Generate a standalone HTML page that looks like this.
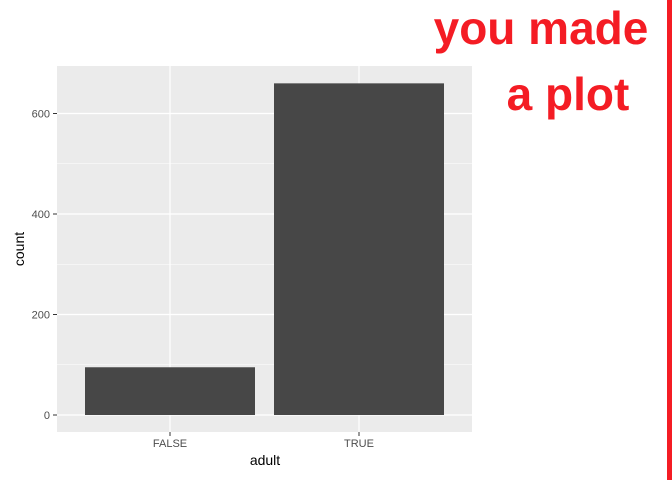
<!DOCTYPE html>
<html><head><meta charset="utf-8"><style>
body{margin:0;background:#fff;width:672px;height:480px;overflow:hidden;font-family:"Liberation Sans",Arial,sans-serif}
</style></head><body>
<svg width="672" height="480" xmlns="http://www.w3.org/2000/svg">
<rect x="57" y="66" width="415" height="366" fill="#ebebeb"/>
<g id="grid"></g>
<g id="bars"></g>
<g id="axes" font-size="11" fill="#4d4d4d"></g>
<text x="265" y="465" font-size="14" text-anchor="middle" fill="#000">adult</text>
<text transform="translate(24,249) rotate(-90)" font-size="14" text-anchor="middle" fill="#000">count</text>
<text x="541" y="44" font-size="46" font-weight="bold" text-anchor="middle" fill="#f41c24">you made</text>
<text x="568" y="110" font-size="46" font-weight="bold" text-anchor="middle" fill="#f41c24">a plot</text>
<rect x="667" y="0" width="5" height="480" fill="#f41c24"/>
</svg>
<script>
const categories=["FALSE","TRUE"];
const counts=[95,660];
const yTicks=[0,200,400,600];
const yMinor=[100,300,500];
const NS="http://www.w3.org/2000/svg";
const y=v=>415-v*0.5025;
const x=i=>170+i*189;
const bw=170;
function mk(t,a,p){const e=document.createElementNS(NS,t);for(const k in a)e.setAttribute(k,a[k]);p.appendChild(e);return e;}
const grid=document.getElementById('grid'),bars=document.getElementById('bars'),axes=document.getElementById('axes');
yMinor.forEach(v=>{const l=mk('line',{x1:57,x2:472,y1:y(v),y2:y(v),stroke:'#fff','stroke-width':0.6},grid);

});
yTicks.forEach(v=>{const l=mk('line',{x1:57,x2:472,y1:y(v),y2:y(v),stroke:'#fff','stroke-width':1.2},grid);


const t=mk('line',{x1:53,x2:57,y1:y(v),y2:y(v),stroke:'#333','stroke-width':1},axes);


const tx=mk('text',{x:50,y:y(v)+4,'text-anchor':'end'},axes);tx.textContent=v;

});
categories.forEach((c,i)=>{const l=mk('line',{x1:x(i),x2:x(i),y1:66,y2:432,stroke:'#fff','stroke-width':1.2},grid);


const r=mk('rect',{x:x(i)-bw/2,y:y(counts[i]),width:bw,height:y(0)-y(counts[i]),fill:'#474747'},bars);


const t=mk('line',{x1:x(i),x2:x(i),y1:432,y2:436,stroke:'#333','stroke-width':1},axes);


const tx=mk('text',{x:x(i),y:447,'text-anchor':'middle'},axes);tx.textContent=c;

});
</script>
</body></html>
